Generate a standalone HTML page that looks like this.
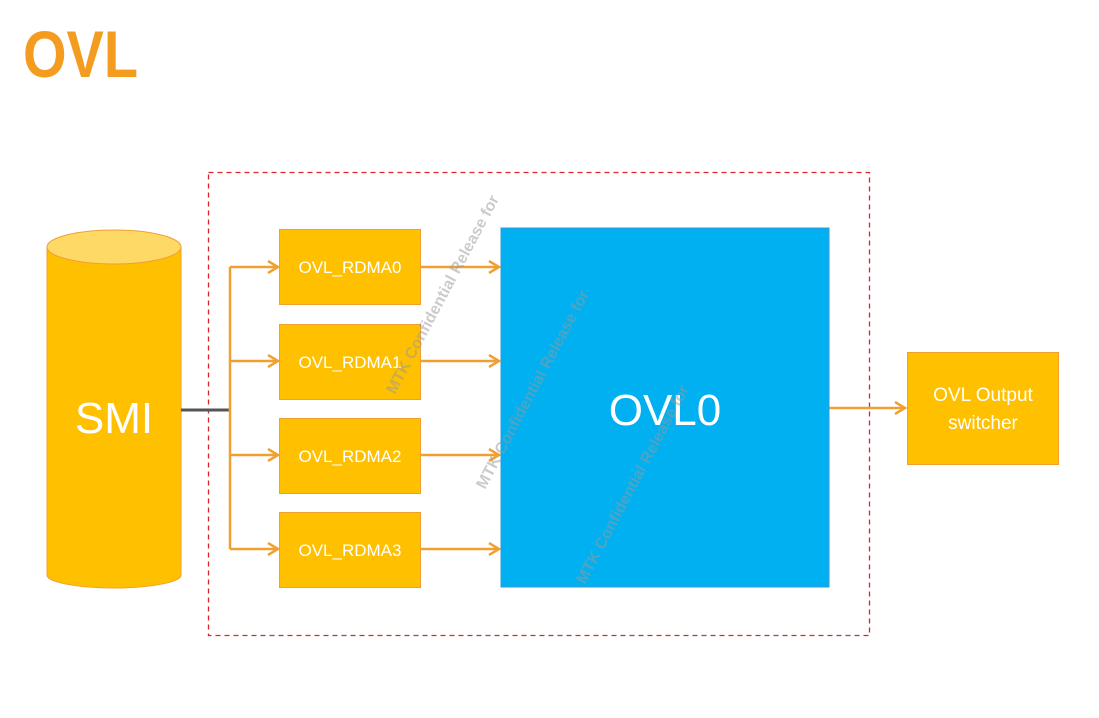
<!DOCTYPE html>
<html><head><style>
body{margin:0;background:#fff;width:1099px;height:713px;overflow:hidden;font-family:"Liberation Sans",sans-serif}
</style></head><body>
<svg width="1099" height="713" xmlns="http://www.w3.org/2000/svg">
<defs><marker id="a" markerWidth="14" markerHeight="14" refX="12" refY="7" orient="auto" markerUnits="userSpaceOnUse"><path d="M2,1 L12,7 L2,13" fill="none" stroke="#F0A030" stroke-width="2.5"/></marker></defs>
<text x="23" y="77" font-size="66" font-weight="bold" fill="#F39C1F" font-family="Liberation Sans" textLength="115" lengthAdjust="spacingAndGlyphs">OVL</text>
<rect x="208.5" y="172.5" width="661" height="463" fill="none" stroke="#D9252A" stroke-width="1.3" stroke-dasharray="5,4"/>
<path d="M47,247 V575 A67,13 0 0 0 181,575 V247 Z" fill="#FFC000" stroke="#F0A030"/>
<ellipse cx="114" cy="247" rx="67" ry="17" fill="#FFD966" stroke="#F0A030"/>
<text x="114" y="433" font-size="44" fill="#fff" text-anchor="middle">SMI</text>
<line x1="181" y1="410" x2="230" y2="410" stroke="#555" stroke-width="3"/>
<g stroke="#F0A030" stroke-width="2.5" fill="none">
<line x1="230" y1="267" x2="230" y2="549"/>
<line x1="230" y1="267" x2="278" y2="267" marker-end="url(#a)"/>
<line x1="230" y1="361" x2="278" y2="361" marker-end="url(#a)"/>
<line x1="230" y1="455" x2="278" y2="455" marker-end="url(#a)"/>
<line x1="230" y1="549" x2="278" y2="549" marker-end="url(#a)"/>
<line x1="421" y1="267" x2="499" y2="267" marker-end="url(#a)"/>
<line x1="421" y1="361" x2="499" y2="361" marker-end="url(#a)"/>
<line x1="421" y1="455" x2="499" y2="455" marker-end="url(#a)"/>
<line x1="421" y1="549" x2="499" y2="549" marker-end="url(#a)"/>
<line x1="829" y1="408" x2="905" y2="408" marker-end="url(#a)"/>
</g>
<g fill="#FFC000" stroke="#F0A030">
<rect x="279.5" y="229.5" width="141" height="75"/>
<rect x="279.5" y="324.5" width="141" height="75"/>
<rect x="279.5" y="418.5" width="141" height="75"/>
<rect x="279.5" y="512.5" width="141" height="75"/>
<rect x="907.5" y="352.5" width="151" height="112"/>
</g>
<g fill="#fff" font-size="17" text-anchor="middle">
<text x="350" y="273">OVL_RDMA0</text>
<text x="350" y="368">OVL_RDMA1</text>
<text x="350" y="462">OVL_RDMA2</text>
<text x="350" y="556">OVL_RDMA3</text>
<text x="983" y="401" font-size="19">OVL Output</text>
<text x="983" y="429" font-size="19">switcher</text>
</g>
<rect x="501" y="228" width="328" height="359" fill="#00B0F0" stroke="#3399dd"/>
<text x="665" y="425" font-size="44" fill="#fff" text-anchor="middle">OVL0</text>
<g fill="#999" opacity="0.5" font-weight="bold" font-size="16">
<text transform="translate(395,395) rotate(-62)">MTK Confidential Release for</text>
<text transform="translate(485,490) rotate(-62)">MTK Confidential Release for</text>
<text transform="translate(585,585) rotate(-62)">MTK Confidential Release for</text>
</g>
</svg>
</body></html>
